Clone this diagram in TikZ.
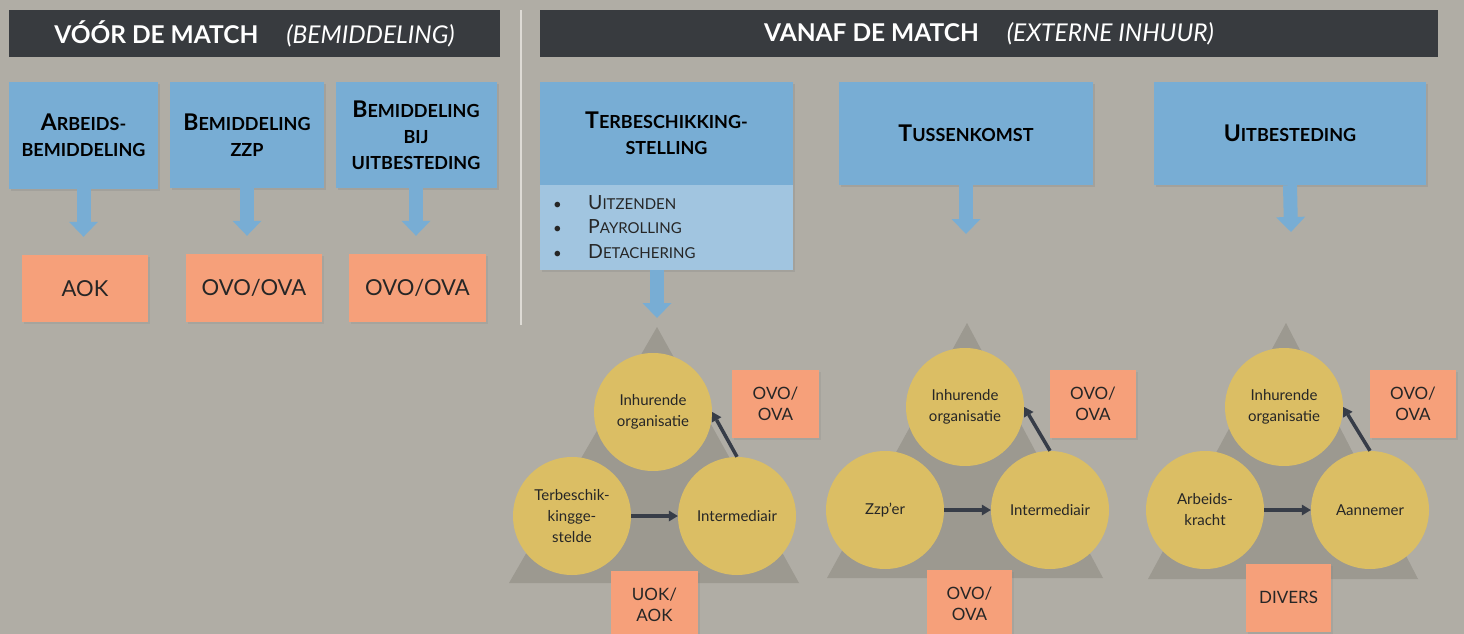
\documentclass[tikz,border=0pt]{standalone}
\usepackage{fontspec}
\setmainfont{Lato}
\usetikzlibrary{arrows.meta,shadows}

\definecolor{bgcol}{RGB}{176,173,165}
\definecolor{headcol}{RGB}{56,59,63}
\definecolor{boxblue}{RGB}{120,173,212}
\definecolor{listblue}{RGB}{161,197,224}
\definecolor{salmon}{RGB}{246,160,122}
\definecolor{gold}{RGB}{219,190,100}
\definecolor{trigray}{RGB}{156,153,144}
\definecolor{arrowdark}{RGB}{55,61,72}
\definecolor{seplight}{RGB}{222,219,213}

% first letter of a small-caps heading
\newcommand{\bigL}[1]{{\fontsize{23}{26}\selectfont #1}}
\newcommand{\bigM}[1]{{\fontsize{19.5}{24}\selectfont #1}}

\begin{document}
\begin{tikzpicture}[x=1pt,y=-1pt,
  bar/.style={fill=headcol, text=white, minimum width=#1, minimum height=47pt, inner sep=0pt,
    font=\fontsize{24.5}{28}\selectfont},
  bluebox/.style={fill=boxblue, align=center, inner sep=0pt, text=black,
    font=\bfseries\fontsize{18}{26}\selectfont,
    drop shadow={shadow xshift=2pt, shadow yshift=-2pt, opacity=0.25}},
  okbox/.style={fill=salmon, align=center, inner sep=0pt, text=black!85,
    drop shadow={shadow xshift=2pt, shadow yshift=-2pt, opacity=0.2}},
  bigok/.style={okbox, font=\fontsize{22}{26}\selectfont},
  smallok/.style={okbox, minimum width=86pt, minimum height=68pt, font=\fontsize{17}{21}\selectfont},
  party/.style={circle, fill=gold, minimum size=118pt, inner sep=0pt, align=center,
    text=black!85, font=\fontsize{15}{21}\selectfont},
  blockarrow/.style={draw=boxblue, line width=14pt, -{Triangle[width=29pt,length=15pt,line width=0pt]}},
  flow/.style={draw=arrowdark, line width=3.5pt, -{Triangle[width=11pt,length=9pt,line width=0pt]}}
]
  \fill[bgcol] (0,0) rectangle (1464,634);
  \useasboundingbox (0,0) rectangle (1464,634);

  % headers
  \node[bar=491pt] (hleft) at (254.5,33.5) {\textbf{VÓÓR DE MATCH}\hspace{28pt}\textit{(BEMIDDELING)}};
  \node[bar=898pt] (hright) at (989,33.5) {\textbf{VANAF DE MATCH}\hspace{28pt}\textit{(EXTERNE INHUUR)}};
  \draw[seplight, line width=1.5pt] (521,10) -- (521,325);

  % before the match
  \node[bluebox, minimum width=149pt, minimum height=107pt] (arb) at (83.5,135.5) {\bigL{A}RBEIDS-\\BEMIDDELING};
  \node[bluebox, minimum width=154pt, minimum height=106pt] (bzzp) at (247,135) {\bigL{B}EMIDDELING\\ZZP};
  \node[bluebox, minimum width=161pt, minimum height=106pt] (buit) at (416,135) {\bigL{B}EMIDDELING\\BIJ\\UITBESTEDING};

  \node[bigok, minimum width=126pt, minimum height=67pt] (aok) at (85,288.5) {AOK};
  \node[bigok, minimum width=136pt, minimum height=68pt] (ovo1) at (254,288) {OVO/OVA};
  \node[bigok, minimum width=137pt, minimum height=68pt] (ovo2) at (417.5,288) {OVO/OVA};

  \draw[blockarrow, shorten >=18pt] (arb.south) -- (arb.south |- aok.north);
  \draw[blockarrow, shorten >=18pt] (bzzp.south) -- (bzzp.south |- ovo1.north);
  \draw[blockarrow, shorten >=18pt] (buit.south) -- (buit.south |- ovo2.north);

  % from the match on
  \node[bluebox, minimum width=253pt, minimum height=103pt] (tbs) at (666.5,133.5) {\bigL{T}ERBESCHIKKING-\\STELLING};
  \node[fill=listblue, minimum width=253pt, minimum height=85pt, inner sep=0pt,
    drop shadow={shadow xshift=2pt, shadow yshift=-2pt, opacity=0.25}] (tbl) at (666.5,227.5) {};
  \node[anchor=west, align=left, inner sep=0pt, text=black!85, font=\fontsize{15}{24.5}\selectfont] (forms) at (553,227)
    {\makebox[35pt][l]{\textbullet}\bigM{U}ITZENDEN\\
     \makebox[35pt][l]{\textbullet}\bigM{P}AYROLLING\\
     \makebox[35pt][l]{\textbullet}\bigM{D}ETACHERING};
  \node[bluebox, minimum width=254pt, minimum height=103pt] (tk) at (966,133.5) {\bigL{T}USSENKOMST};
  \node[bluebox, minimum width=272pt, minimum height=103pt] (ub) at (1290,133.5) {\bigL{U}ITBESTEDING};

  \coordinate (apex1) at (657,327);
  \coordinate (apex2) at (967,323);
  \coordinate (apex3) at (1286,323);
  \coordinate (tkend) at (966,234);
  \coordinate (ubend) at (1291,232);

  \fill[trigray] (apex1) -- (509,583) -- (799,583) -- cycle;
  \fill[trigray] (apex2) -- (827,578) -- (1103,578) -- cycle;
  \fill[trigray] (apex3) -- (1148,579) -- (1418,579) -- cycle;

  \draw[blockarrow, shorten >=9pt] (tbl.south -| apex1) -- (apex1);
  \draw[blockarrow] (tk.south) -- (tkend);
  \draw[blockarrow] (ub.south) -- (ubend);

  % terbeschikkingstelling
  \node[party] (io1) at (653,412) {Inhurende\\organisatie};
  \node[party] (tg1) at (572,516) {Terbeschik-\\kingge-\\stelde};
  \node[party] (im1) at (737,516) {Intermediair};
  \node[smallok, minimum width=87pt] (ovo3) at (775.5,404) {OVO/\\OVA};
  \node[smallok, minimum width=87pt] (uok) at (654.5,605) {UOK/\\AOK};
  \draw[flow] (tg1) -- (im1);
  \draw[flow] (im1.north) -- (io1.east);

  % tussenkomst
  \node[party] (io2) at (965,407) {Inhurende\\organisatie};
  \node[party] (zzp) at (885,510) {Zzp’er};
  \node[party] (im2) at (1050,510) {Intermediair};
  \node[smallok] (ovo4) at (1093,403.5) {OVO/\\OVA};
  \node[smallok, minimum width=85pt] (ovo5) at (969.5,603.5) {OVO/\\OVA};
  \draw[flow] (zzp) -- (im2);
  \draw[flow] (im2.north) -- (io2.east);

  % uitbesteding
  \node[party] (io3) at (1284,407) {Inhurende\\organisatie};
  \node[party] (ak) at (1205,510) {Arbeids-\\kracht};
  \node[party] (an) at (1370,510) {Aannemer};
  \node[smallok] (ovo6) at (1413,403.5) {OVO/\\OVA};
  \node[smallok, minimum width=85pt] (div) at (1288.5,597.5) {DIVERS};
  \draw[flow] (ak) -- (an);
  \draw[flow] (an.north) -- (io3.east);
\end{tikzpicture}
\end{document}
